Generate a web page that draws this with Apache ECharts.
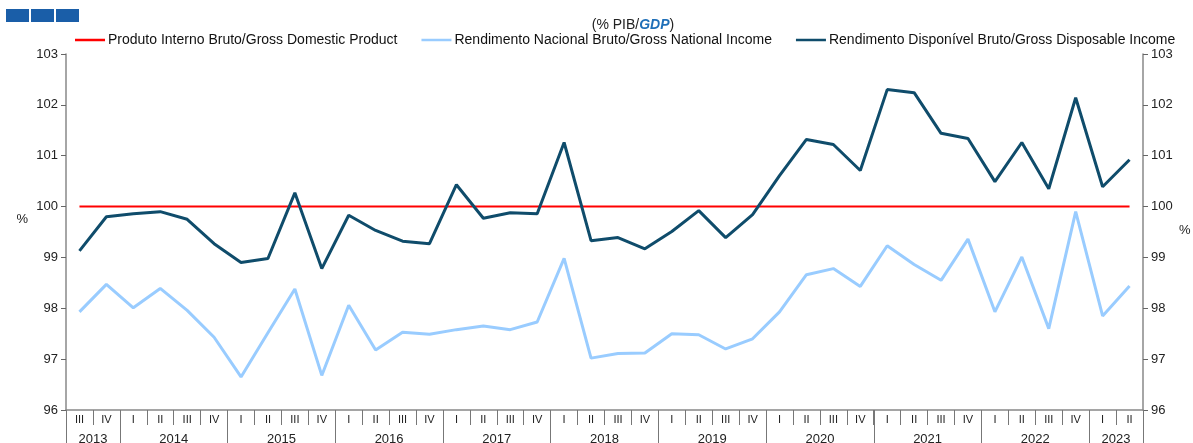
<!DOCTYPE html>
<html>
<head>
<meta charset="utf-8">
<script src="https://cdn.jsdelivr.net/npm/echarts@6/dist/echarts.min.js"></script>
<style>
  html, body { margin: 0; padding: 0; background: #fff; }
  #chart { width: 1193px; height: 443px; }
</style>
</head>
<body>
<div id="chart"></div>
<script>
// quarters 2013 III .. 2023 II
const quarters = ['III', 'IV',
  'I', 'II', 'III', 'IV', 'I', 'II', 'III', 'IV', 'I', 'II', 'III', 'IV',
  'I', 'II', 'III', 'IV', 'I', 'II', 'III', 'IV', 'I', 'II', 'III', 'IV',
  'I', 'II', 'III', 'IV', 'I', 'II', 'III', 'IV', 'I', 'II', 'III', 'IV',
  'I', 'II']
const years = ['2013', '2014', '2015', '2016', '2017', '2018', '2019', '2020', '2021', '2022', '2023']
// number of quarters shown for each year
const yearQuarters = [2, 4, 4, 4, 4, 4, 4, 4, 4, 4, 2]

const gdp = quarters.map(() => 100)
const gni = [97.93, 98.47, 98.01, 98.39, 97.96, 97.43, 96.65, 97.52, 98.38, 96.68,
  98.06, 97.18, 97.53, 97.49, 97.58, 97.65, 97.58, 97.73, 98.98, 97.02,
  97.11, 97.12, 97.50, 97.48, 97.20, 97.40, 97.93, 98.66, 98.78, 98.43,
  99.23, 98.86, 98.55, 99.36, 97.93, 99.01, 97.60, 99.90, 97.85, 98.44]
const gdi = [99.13, 99.80, 99.86, 99.90, 99.75, 99.27, 98.90, 98.98, 100.27, 98.78,
  99.83, 99.53, 99.32, 99.27, 100.43, 99.77, 99.88, 99.86, 101.26, 99.33,
  99.39, 99.17, 99.51, 99.92, 99.39, 99.84, 100.61, 101.32, 101.22, 100.71,
  102.30, 102.24, 101.44, 101.34, 100.49, 101.26, 100.35, 102.14, 100.39, 100.92]

const names = [
  'Produto Interno Bruto/Gross Domestic Product',
  'Rendimento Nacional Bruto/Gross National Income',
  'Rendimento Disponível Bruto/Gross Disposable Income'
]

// year label positions (centre of each year's span) and separators
const yearBounds = [0]
const yearCentres = []
yearQuarters.forEach((n, i) => {
  const start = yearBounds[i]
  yearBounds.push(start + n)
  yearCentres.push(start + n / 2)
})

const font = 'Liberation Sans, Arial, sans-serif'
const chart = echarts.init(document.getElementById('chart'))

const yAxisBase = {
  type: 'value',
  min: 96,
  max: 103,
  interval: 1,
  axisLine: { show: true, lineStyle: { color: '#888', width: 1.5 } },
  axisTick: { show: true, length: 5, lineStyle: { color: '#666' } },
  splitLine: { show: false },
  axisLabel: { color: '#222', fontSize: 13, fontFamily: font },
  nameLocation: 'middle',
  nameRotate: 0
}

const option = {
  animation: false,
  textStyle: { fontFamily: font },
  title: {
    text: '(% PIB/{g|GDP})',
    left: 628,
    textAlign: 'center',
    top: 13,
    textStyle: {
      fontSize: 14,
      fontWeight: 'normal',
      color: '#222',
      fontFamily: font,
      rich: { g: { color: '#1f6fb8', fontStyle: 'italic', fontWeight: 'bold', fontSize: 14, fontFamily: font } }
    }
  },
  graphic: [
    { type: 'rect', left: 6, top: 9, shape: { width: 23, height: 13 }, style: { fill: '#1a5ea8' } },
    { type: 'rect', left: 31, top: 9, shape: { width: 23, height: 13 }, style: { fill: '#1a5ea8' } },
    { type: 'rect', left: 56, top: 9, shape: { width: 23, height: 13 }, style: { fill: '#1a5ea8' } }
  ],
  legend: {
    left: 70,
    top: 28,
    icon: 'rect',
    itemWidth: 30,
    itemHeight: 2.5,
    itemGap: 24,
    textStyle: { fontSize: 14, color: '#111', fontFamily: font, padding: [0, 0, 0, -2] },
    data: names
  },
  grid: { left: 66, right: 50, top: 54, bottom: 33, outerBoundsMode: 'none' },
  xAxis: [
    {
      type: 'category',
      data: quarters,
      axisLine: { show: true, lineStyle: { color: '#888', width: 1.5 } },
      axisTick: { show: true, length: 15, interval: 0, lineStyle: { color: '#777' } },
      axisLabel: { interval: 0, margin: 4, fontSize: 11, color: '#222', fontFamily: font }
    },
    {
      type: 'value',
      min: 0,
      max: 40,
      position: 'bottom',
      splitLine: { show: false },
      axisLine: { show: false },
      axisTick: { show: true, length: 35, customValues: yearBounds, lineStyle: { color: '#777' } },
      axisLabel: {
        customValues: yearCentres,
        margin: 23,
        fontSize: 13,
        color: '#222',
        fontFamily: font,
        formatter: v => years[yearCentres.indexOf(v)] || ''
      }
    }
  ],
  yAxis: [
    Object.assign({}, yAxisBase, {
      position: 'left',
      name: '{p|%}',
      nameGap: 38,
      nameTextStyle: { rich: { p: { color: '#222', fontSize: 13, fontFamily: font, padding: [0, 0, 26, 0] } } }
    }),
    Object.assign({}, yAxisBase, {
      position: 'right',
      name: '{p|%}',
      nameGap: 36,
      nameTextStyle: { rich: { p: { color: '#222', fontSize: 13, fontFamily: font, padding: [0, 0, 4, 0] } } }
    })
  ],
  series: [
    {
      name: names[0], type: 'line', data: gdp, showSymbol: false,
      lineStyle: { color: '#ff0000', width: 2 }, itemStyle: { color: '#ff0000' }, z: 1
    },
    {
      name: names[1], type: 'line', data: gni, showSymbol: false,
      lineStyle: { color: '#99ccff', width: 3 }, itemStyle: { color: '#99ccff' }, z: 2
    },
    {
      name: names[2], type: 'line', data: gdi, showSymbol: false,
      lineStyle: { color: '#0f4c6b', width: 3 }, itemStyle: { color: '#0f4c6b' }, z: 3
    }
  ]
}

chart.setOption(option)
</script>
</body>
</html>
